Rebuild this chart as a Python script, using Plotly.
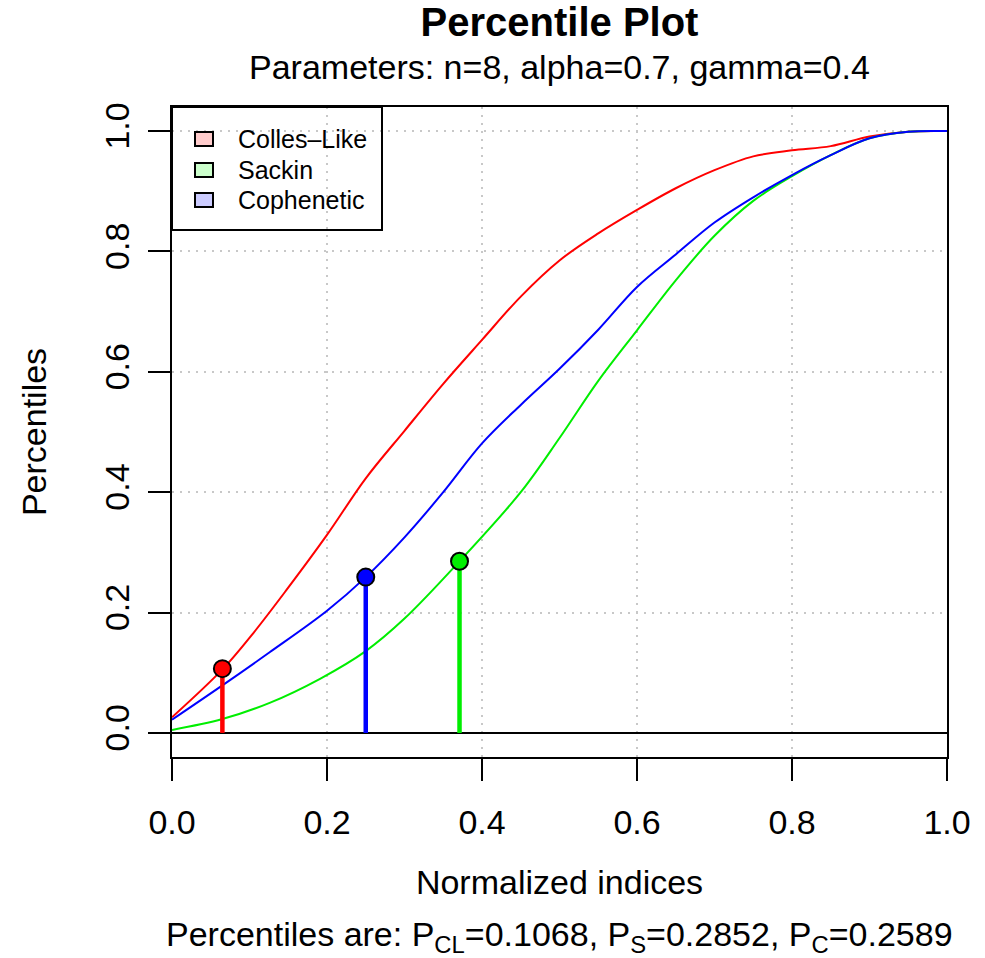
import plotly.graph_objects as go

# ---- data ----
series_names = ["Colles\u2013Like", "Sackin", "Cophenetic"]
line_colors = ["#ff0000", "#00ee00", "#0000ff"]
legend_fills = ["#ffcccc", "#ccffcc", "#ccccff"]

colles_x = [0.0, 0.066, 0.105, 0.148, 0.2, 0.25, 0.3, 0.35, 0.4, 0.45, 0.5, 0.55, 0.6, 0.65, 0.7,
            0.75, 0.8, 0.85, 0.9, 0.95, 1.0]
colles_y = [0.026, 0.1068, 0.166, 0.238, 0.329, 0.423, 0.502, 0.58, 0.653, 0.725, 0.785, 0.83, 0.869,
            0.905, 0.935, 0.958, 0.968, 0.975, 0.991, 0.999, 1.0]

sackin_x = [0.0, 0.065, 0.126, 0.191, 0.25, 0.3, 0.371, 0.45, 0.5, 0.55, 0.6, 0.65, 0.7, 0.75, 0.8,
            0.85, 0.9, 0.95, 1.0]
sackin_y = [0.005, 0.023, 0.05, 0.09, 0.136, 0.19, 0.2852, 0.40, 0.49, 0.585, 0.669, 0.752, 0.826,
            0.884, 0.925, 0.96, 0.988, 0.999, 1.0]

cophen_x = [0.0, 0.065, 0.126, 0.2, 0.25, 0.3, 0.35, 0.4, 0.45, 0.5, 0.55, 0.6, 0.65, 0.7, 0.75,
            0.8, 0.85, 0.9, 0.95, 1.0]
cophen_y = [0.022, 0.079, 0.134, 0.203, 0.2589, 0.325, 0.40, 0.481, 0.545, 0.605, 0.67, 0.741, 0.795,
            0.848, 0.89, 0.927, 0.96, 0.988, 0.999, 1.0]

# observed index (normalized) and its percentile
obs_x = [0.065, 0.371, 0.25]
obs_p = [0.1068, 0.2852, 0.2589]

tick_vals = [0.0, 0.2, 0.4, 0.6, 0.8, 1.0]
tick_text = ["0.0", "0.2", "0.4", "0.6", "0.8", "1.0"]

FONT = "Liberation Sans, Arial, Helvetica, sans-serif"

fig = go.Figure()

curves = [(colles_x, colles_y), (sackin_x, sackin_y), (cophen_x, cophen_y)]
for (cx, cy), col, name in zip(curves, line_colors, series_names):
    fig.add_trace(go.Scatter(x=cx, y=cy, mode="lines", name=name,
                             line=dict(color=col, width=2, shape="spline", smoothing=1.0),
                             showlegend=False))

for ox, op, col in zip(obs_x, obs_p, line_colors):
    fig.add_trace(go.Scatter(x=[ox, ox], y=[0, op], mode="lines", line=dict(color=col, width=4.5),
                             showlegend=False, hoverinfo="skip"))
for ox, op, col in zip(obs_x, obs_p, line_colors):
    fig.add_trace(go.Scatter(x=[ox], y=[op], mode="markers",
                             marker=dict(size=17, color=col, line=dict(color="black", width=2)),
                             showlegend=False))

# ---- legend box (drawn manually to match R's legend) ----
W, H = 775.0, 650.0  # plot area size in px
def px_x(p):
    return (p - 172) / W
def px_y(p):
    return (757 - p) / H

shapes = [dict(type="rect", xref="paper", yref="paper", x0=px_x(172), x1=px_x(382),
               y0=px_y(230), y1=px_y(107), line=dict(color="black", width=2),
               fillcolor="rgba(0,0,0,0)", layer="above")]
annotations = []
legend_rows_y = [139, 170, 200]
for name, fill, ry in zip(series_names, legend_fills, legend_rows_y):
    shapes.append(dict(type="rect", xref="paper", yref="paper", x0=px_x(195), x1=px_x(213),
                       y0=px_y(ry + 7), y1=px_y(ry - 7), line=dict(color="black", width=2),
                       fillcolor=fill, layer="above"))
    annotations.append(dict(text=name, xref="paper", yref="paper", x=px_x(236), y=px_y(ry),
                            xanchor="left", yanchor="middle", showarrow=False,
                            font=dict(family=FONT, size=25, color="black")))

annotations += [
    dict(text="Parameters: n=8, alpha=0.7, gamma=0.4", xref="paper", yref="paper", x=0.5,
         y=px_y(67), xanchor="center", yanchor="middle", showarrow=False,
         font=dict(family=FONT, size=34, color="black")),
    dict(text="Percentiles are: P<sub>CL</sub>=%.4f, P<sub>S</sub>=%.4f, P<sub>C</sub>=%.4f" % (obs_p[0], obs_p[1], obs_p[2]),
         xref="paper", yref="paper", x=0.5, y=px_y(936), xanchor="center", yanchor="middle",
         showarrow=False, font=dict(family=FONT, size=34, color="black")),
]

axis_common = dict(
    tickvals=tick_vals, ticktext=tick_text, ticks="outside", ticklen=22, tickwidth=1.5, tickcolor="black",
    showline=True, linecolor="black", linewidth=2, mirror=True,
    showgrid=True, gridcolor="#c8c8c8", gridwidth=1.5, griddash="2px,6px",
    tickfont=dict(family=FONT, size=34, color="black"),
)

fig.update_layout(
    width=985, height=958,
    margin=dict(l=172, r=38, t=107, b=201, pad=0),
    paper_bgcolor="white", plot_bgcolor="white",
    font=dict(family=FONT, color="black"),
    showlegend=False,
    title=dict(text="<b>Percentile Plot</b>", font=dict(family=FONT, size=40, color="black"),
               x=0.5, xref="paper", xanchor="center", y=1 - 22 / 958, yref="container", yanchor="middle"),
    xaxis=dict(range=[0, 1], zeroline=False, ticklabelstandoff=12, **axis_common,
               title=dict(text="Normalized indices", font=dict(family=FONT, size=34), standoff=30)),
    yaxis=dict(range=[-0.04, 1.04], tickangle=-90, ticklabelstandoff=5,
               zeroline=True, zerolinecolor="black", zerolinewidth=2, **axis_common,
               title=dict(text="Percentiles", font=dict(family=FONT, size=34), standoff=42)),
    shapes=shapes,
    annotations=annotations,
)

fig.write_html("out.html")
